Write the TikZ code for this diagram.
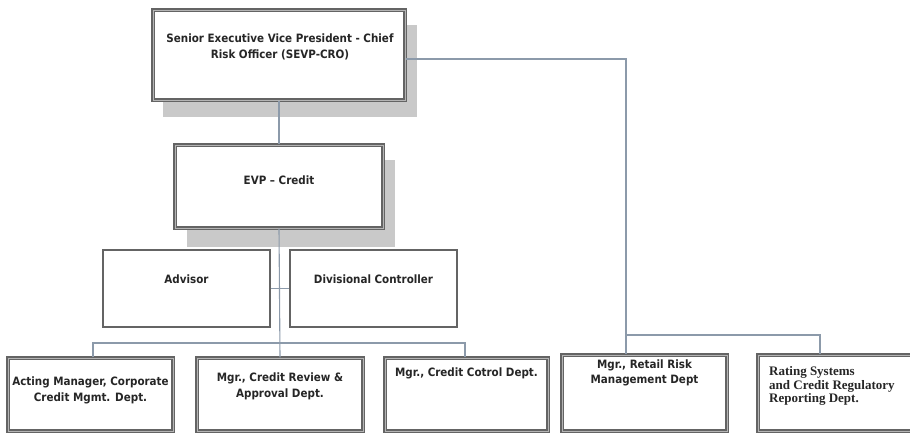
\documentclass[tikz,border=0pt]{standalone}
\usepackage{fontspec}
\setmainfont{DejaVu Sans Condensed}
\newfontfamily\serifrating{Liberation Serif}
\definecolor{conncol}{HTML}{8C9AAA}
\definecolor{bordcol}{HTML}{646464}
\definecolor{bordin}{HTML}{B4B4B4}
\definecolor{shadcol}{HTML}{C9C9C9}
\definecolor{txtcol}{HTML}{262626}
\begin{document}
\begin{tikzpicture}[x=1pt,y=-1pt,
  dbox/.style={draw=bordcol, line width=1.3pt, double=bordin, double distance=1pt, fill=white, rectangle, inner sep=0pt},
  sbox/.style={draw=bordcol, line width=1.2pt, fill=white, rectangle, inner sep=0pt},
  lbl/.style={font=\fontsize{11.5}{16}\selectfont\bfseries, text=txtcol, align=center, inner sep=0pt},
  conn/.style={draw=conncol, line width=1.1pt}]
\useasboundingbox (0,0) rectangle (910,432);
% shadows
\fill[shadcol] (163,25) rectangle (417,117);
\fill[shadcol] (187,160) rectangle (395,247);
% boxes
\node[dbox, minimum width=252, minimum height=90] (top) at (279,55) {};
\node[dbox, minimum width=208, minimum height=83] (evp) at (279,186.5) {};
\node[sbox, minimum width=167, minimum height=77] (advisor) at (186.5,288.5) {};
\node[sbox, minimum width=167, minimum height=77] (div) at (373.5,288.5) {};
\node[dbox, minimum width=165, minimum height=73] (acting) at (90.5,394.5) {};
\node[dbox, minimum width=166, minimum height=73] (review) at (280,394.5) {};
\node[dbox, minimum width=163, minimum height=73] (cotrol) at (466.5,394.5) {};
\node[dbox, minimum width=165, minimum height=76] (retail) at (644.5,393) {};
\node[dbox, minimum width=160, minimum height=76] (rating) at (838,393) {};
% texts
\node[lbl] (topT) at (280,47) {Senior Executive Vice President - Chief\\Risk Officer (SEVP-CRO)};
\node[lbl] (evpT) at (279,180) {EVP -- Credit};
\node[lbl] (advT) at (186.5,279) {Advisor};
\node[lbl] (divT) at (373.5,279) {Divisional Controller};
\node[lbl] (actT) at (90.5,390.5) {Acting Manager, Corporate\\Credit Mgmt. Dept.};
\node[lbl] (revT) at (280,386.5) {Mgr., Credit Review \&\\Approval Dept.};
\node[lbl] (cotT) at (466.5,373) {Mgr., Credit Cotrol Dept.};
\node[lbl, font=\fontsize{11.5}{15}\selectfont\bfseries] (retT) at (644.5,372.5) {Mgr., Retail Risk\\Management Dept};
\node[font=\serifrating\fontsize{13}{13.5}\selectfont\bfseries, text=txtcol, align=left, inner sep=0pt, anchor=west] (ratT) at (769,386) {Rating Systems\\and Credit Regulatory\\Reporting Dept.};
% junctions
\coordinate (j1) at (626,335);
\coordinate (j2) at (820,335);
\coordinate (b1) at (93,343);
\coordinate (b2) at (465,343);
% connectors
\draw[conn] (top.south) -- (evp.north);
\draw[conn] (evp.south) -- (review.north);
\draw[conn] (b1 |- acting.north) -- (b1) -- (b2) -- (b2 |- cotrol.north);
\draw[conn] (advisor.east) -- (div.west);
\draw[conn] ([yshift=-4pt]top.east) -| (j1) -- (j1 |- retail.north);
\draw[conn] (j1) -- (j2) -- (j2 |- rating.north);
\end{tikzpicture}
\end{document}
